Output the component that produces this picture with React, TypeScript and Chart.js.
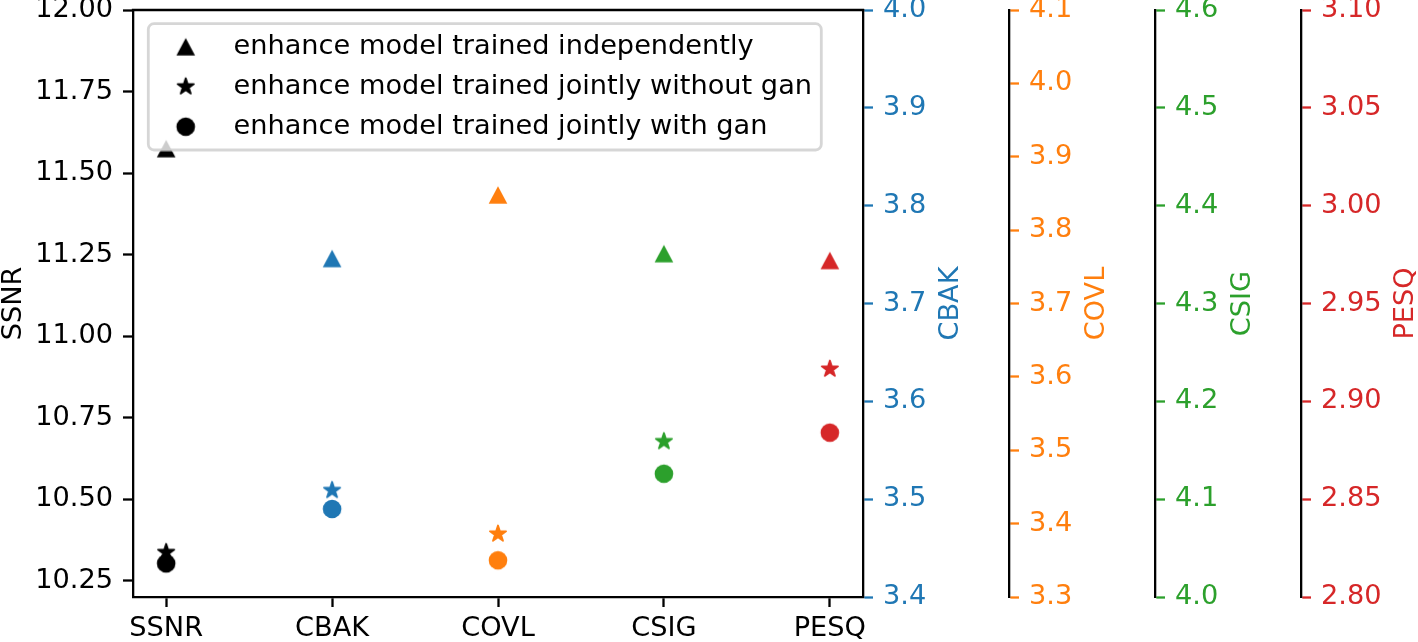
import React, { useEffect, useRef } from 'react';
import { Chart, registerables } from 'chart.js';

Chart.register(...registerables);

// ---- data ----
const CATEGORIES = ['SSNR', 'CBAK', 'COVL', 'CSIG', 'PESQ'];
const METRIC_COLORS = ['#000000', '#1f77b4', '#ff7f0e', '#2ca02c', '#d62728'];
const INDEPENDENT = [11.575, 3.746, 3.848, 4.351, 2.972];
const JOINT_NO_GAN = [10.337, 3.509, 3.386, 4.159, 2.9165];
const JOINT_GAN = [10.303, 3.49, 3.35, 4.126, 2.884];
const LEGEND_LABELS = [
  'enhance model trained independently',
  'enhance model trained jointly without gan',
  'enhance model trained jointly with gan',
];
const SSNR_TICKS = [10.25, 10.5, 10.75, 11.0, 11.25, 11.5, 11.75, 12.0];
const CBAK_TICKS = [3.4, 3.5, 3.6, 3.7, 3.8, 3.9, 4.0];
const COVL_TICKS = [3.3, 3.4, 3.5, 3.6, 3.7, 3.8, 3.9, 4.0, 4.1];
const CSIG_TICKS = [4.0, 4.1, 4.2, 4.3, 4.4, 4.5, 4.6];
const PESQ_TICKS = [2.8, 2.85, 2.9, 2.95, 3.0, 3.05, 3.1];
const SSNR_RANGE = [10.2, 12.0];
const CBAK_RANGE = [3.4, 4.0];
const COVL_RANGE = [3.3, 4.1];
const CSIG_RANGE = [4.0, 4.6];
const PESQ_RANGE = [2.8, 3.1];
const X_RANGE = [-0.2, 4.2];

// ---- styling ----
const FONT_FAMILY = '"DejaVu Sans", "Liberation Sans", sans-serif';
const FONT_SIZE = 27.2;
const CAP_H = 0.729 * FONT_SIZE;
const LINE_W = 2.3;

const AXES = [
  { id: 'y', title: 'SSNR', ticks: SSNR_TICKS, range: SSNR_RANGE, color: '#000000', decimals: 2, position: 'left', weight: 0, width: 133 },
  { id: 'yCBAK', title: 'CBAK', ticks: CBAK_TICKS, range: CBAK_RANGE, color: METRIC_COLORS[1], decimals: 1, position: 'right', weight: 0, width: 146 },
  { id: 'yCOVL', title: 'COVL', ticks: COVL_TICKS, range: COVL_RANGE, color: METRIC_COLORS[2], decimals: 1, position: 'right', weight: 1, width: 146 },
  { id: 'yCSIG', title: 'CSIG', ticks: CSIG_TICKS, range: CSIG_RANGE, color: METRIC_COLORS[3], decimals: 1, position: 'right', weight: 2, width: 146 },
  { id: 'yPESQ', title: 'PESQ', ticks: PESQ_TICKS, range: PESQ_RANGE, color: METRIC_COLORS[4], decimals: 2, position: 'right', weight: 3, width: 117 },
];

type Shape = 'triangle' | 'star' | 'circle';

function makeMarker(shape: Shape, color: string): HTMLCanvasElement {
  const c = document.createElement('canvas');
  c.width = 26;
  c.height = 26;
  const g = c.getContext('2d')!;
  g.fillStyle = color;
  g.strokeStyle = color;
  g.translate(13, 13);
  g.beginPath();
  if (shape === 'triangle') {
    g.moveTo(0, -8.7);
    g.lineTo(9.3, 8.7);
    g.lineTo(-9.3, 8.7);
    g.closePath();
    g.fill();
  } else if (shape === 'star') {
    const R = 8.5;
    const r = R * 0.381966;
    for (let k = 0; k < 10; k++) {
      const a = -Math.PI / 2 + (k * Math.PI) / 5;
      const rad = k % 2 === 0 ? R : r;
      const px = Math.cos(a) * rad;
      const py = Math.sin(a) * rad;
      if (k === 0) g.moveTo(px, py);
      else g.lineTo(px, py);
    }
    g.closePath();
    g.fill();
    g.lineJoin = 'round';
    g.lineWidth = 1.8;
    g.stroke();
  } else {
    g.arc(0, 0, 9.3, 0, Math.PI * 2);
    g.fill();
  }
  return c;
}

function yAxisConfig(ax: any) {
  return {
    type: 'linear',
    position: ax.position,
    weight: ax.weight,
    min: ax.range[0],
    max: ax.range[1],
    afterBuildTicks: (s: any) => {
      s.ticks = ax.ticks.map((v: number) => ({ value: v }));
    },
    afterFit: (s: any) => {
      s.width = ax.width;
      s.paddingTop = 0;
      s.paddingBottom = 0;
    },
    ticks: {
      color: ax.color,
      font: { family: FONT_FAMILY, size: FONT_SIZE },
      padding: 10,
      autoSkip: false,
      callback: (v: any) => Number(v).toFixed(ax.decimals),
    },
    grid: {
      display: true,
      drawOnChartArea: false,
      drawTicks: true,
      tickLength: 10,
      tickWidth: LINE_W,
      tickColor: ax.color,
      color: ax.color,
    },
    border: { display: true, color: '#000000', width: LINE_W },
    title: { display: false },
  };
}

export default function App() {
  const canvasRef = useRef<HTMLCanvasElement | null>(null);

  useEffect(() => {
    const canvas = canvasRef.current;
    if (!canvas) return;

    const shapes: Shape[] = ['triangle', 'star', 'circle'];
    const legendMarkers = shapes.map((s) => makeMarker(s, '#000000'));

    const datasets = CATEGORIES.map((cat, i) => {
      const styles = shapes.map((s) => makeMarker(s, METRIC_COLORS[i]));
      return {
        label: cat,
        data: [
          { x: i, y: INDEPENDENT[i] },
          { x: i, y: JOINT_NO_GAN[i] },
          { x: i, y: JOINT_GAN[i] },
        ],
        yAxisID: AXES[i].id,
        xAxisID: 'x',
        pointStyle: styles,
        pointRadius: 9,
        pointHoverRadius: 9,
        backgroundColor: METRIC_COLORS[i],
        borderColor: METRIC_COLORS[i],
        borderWidth: 0,
        clip: false,
        order: 0,
      };
    });

    const scales: any = {
      x: {
        type: 'linear',
        position: 'bottom',
        min: X_RANGE[0],
        max: X_RANGE[1],
        afterBuildTicks: (s: any) => {
          s.ticks = CATEGORIES.map((_, i) => ({ value: i }));
        },
        afterFit: (s: any) => {
          s.height = 45;
          s.paddingLeft = 0;
          s.paddingRight = 0;
        },
        ticks: {
          color: '#000000',
          font: { family: FONT_FAMILY, size: FONT_SIZE },
          padding: 6,
          autoSkip: false,
          maxRotation: 0,
          minRotation: 0,
          callback: (v: any) => CATEGORIES[Math.round(Number(v))],
        },
        grid: {
          display: true,
          drawOnChartArea: false,
          drawTicks: true,
          tickLength: 10,
          tickWidth: LINE_W,
          tickColor: '#000000',
          color: '#000000',
        },
        border: { display: true, color: '#000000', width: LINE_W },
      },
    };
    AXES.forEach((ax) => {
      scales[ax.id] = yAxisConfig(ax);
    });

    const framePlugin = {
      id: 'frameTop',
      beforeDatasetsDraw(chart: any) {
        const { ctx, chartArea } = chart;
        ctx.save();
        ctx.strokeStyle = '#000000';
        ctx.lineWidth = LINE_W;
        ctx.beginPath();
        ctx.moveTo(chartArea.left - LINE_W / 2, chartArea.top);
        ctx.lineTo(chartArea.right + LINE_W / 2, chartArea.top);
        ctx.stroke();
        ctx.restore();
      },
    };

    const legendPlugin = {
      id: 'floatingLegend',
      afterDatasetsDraw(chart: any) {
        const ctx = chart.ctx;
        ctx.save();
        const x = 148.3, y = 23.7, w = 673, h = 126.3, r = 5.7;
        ctx.beginPath();
        ctx.moveTo(x + r, y);
        ctx.lineTo(x + w - r, y);
        ctx.arcTo(x + w, y, x + w, y + r, r);
        ctx.lineTo(x + w, y + h - r);
        ctx.arcTo(x + w, y + h, x + w - r, y + h, r);
        ctx.lineTo(x + r, y + h);
        ctx.arcTo(x, y + h, x, y + h - r, r);
        ctx.lineTo(x, y + r);
        ctx.arcTo(x, y, x + r, y, r);
        ctx.closePath();
        ctx.fillStyle = 'rgba(255,255,255,0.8)';
        ctx.fill();
        ctx.strokeStyle = 'rgba(204,204,204,0.8)';
        ctx.lineWidth = 2.8;
        ctx.stroke();

        ctx.font = `${FONT_SIZE}px ${FONT_FAMILY}`;
        ctx.fillStyle = '#000000';
        ctx.textAlign = 'left';
        ctx.textBaseline = 'alphabetic';
        LEGEND_LABELS.forEach((label, i) => {
          const cy = 46.7 + i * 40;
          ctx.drawImage(legendMarkers[i], 185.7 - 13, cy - 13);
          ctx.fillText(label, 233.5, cy + 7.7);
        });
        ctx.restore();
      },
    };

    const titlePlugin = {
      id: 'axisTitles',
      afterDraw(chart: any) {
        const { ctx, chartArea } = chart;
        ctx.save();
        ctx.font = `${FONT_SIZE}px ${FONT_FAMILY}`;
        const cy = (chartArea.top + chartArea.bottom) / 2;
        AXES.forEach((ax) => {
          const s = chart.scales[ax.id];
          const maxW = Math.max(
            ...ax.ticks.map((v: number) => ctx.measureText(v.toFixed(ax.decimals)).width)
          );
          const cx = ax.position === 'left' ? s.right - maxW - 44 : s.left + maxW + 42;
          ctx.save();
          ctx.translate(cx + CAP_H / 2, cy);
          ctx.rotate(-Math.PI / 2);
          ctx.textAlign = 'center';
          ctx.textBaseline = 'alphabetic';
          ctx.fillStyle = ax.color;
          ctx.fillText(ax.title, 0, 0);
          ctx.restore();
        });
        ctx.restore();
      },
    };

    const chart = new Chart(canvas, {
      type: 'scatter',
      data: { datasets } as any,
      options: {
        animation: false,
        responsive: true,
        maintainAspectRatio: false,
        devicePixelRatio: 1,
        layout: { padding: { top: 10, left: 0, right: 0, bottom: 0 } },
        plugins: {
          legend: { display: false },
          tooltip: { enabled: false },
          title: { display: false },
        },
        events: [],
        scales,
      } as any,
      plugins: [framePlugin, legendPlugin, titlePlugin],
    });

    return () => {
      chart.destroy();
    };
  }, []);

  return (
    <div
      style={{
        position: 'absolute',
        left: 0,
        top: 0,
        width: 1418,
        height: 642,
        background: '#ffffff',
      }}
    >
      <canvas ref={canvasRef} />
    </div>
  );
}
